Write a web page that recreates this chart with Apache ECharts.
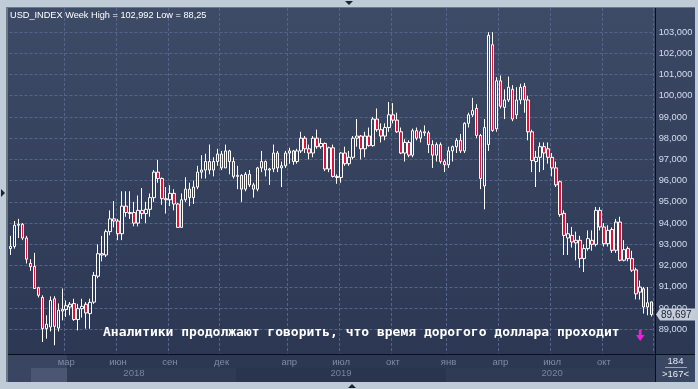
<!DOCTYPE html>
<html><head><meta charset="utf-8">
<script src="https://cdn.jsdelivr.net/npm/echarts@6/dist/echarts.min.js"></script>
<style>html,body{margin:0;padding:0;background:#c0cbd8;}#c{width:698px;height:389px;}</style>
</head><body><div id="c"></div><script>
// ---- data ----
const startWeek = '2017-11-20';
const weekCount = 163;
const opens = [
93.6,92.8,92.9,93.9,93.95,93.3,92.1,91.96,90.96,90.5,
89.03,89.11,90.44,89.06,89.86,89.93,90.05,90.21,89.46,89.97,
90.18,89.74,90.28,91.5,92.56,92.5,93.6,94.2,94.1,93.5,
94.8,94.5,94.5,94.0,94.6,94.45,94.65,95.2,96.4,96.1,
95.15,95.1,95.4,94.9,93.8,95.1,95.6,95.2,95.7,96.4,
96.5,96.9,96.5,96.9,97.25,96.6,97.4,96.9,96.2,96.25,
95.6,96.3,95.8,95.6,96.6,96.9,96.5,96.55,97.3,96.6,
96.7,97.3,97.4,96.9,97.4,98.0,97.5,97.3,98.0,97.6,
97.75,96.55,97.55,96.2,96.15,97.3,96.8,97.1,98.0,98.1,
97.5,98.1,97.65,98.9,98.4,98.1,98.5,99.1,98.85,98.3,
97.3,97.8,97.2,98.35,98.0,98.3,98.25,97.7,97.2,97.7,
96.9,96.75,97.4,97.6,97.9,97.4,98.7,99.1,99.4,98.13,
95.75,97.7,102.4,98.44,100.7,99.45,99.8,100.3,99.1,99.8,
100.44,99.8,98.3,96.9,97.1,97.6,97.5,97.1,96.6,95.95,
94.46,93.3,93.42,93.07,93.19,92.33,92.8,93.19,93.0,94.6,
93.82,93.03,93.7,92.72,94.05,92.25,92.8,92.33,91.8,90.75,
90.91,90.05,90.29];
const closes = [
92.8,92.9,93.9,93.95,93.3,92.3,91.95,90.92,90.6,89.03,
89.24,90.36,89.14,89.9,89.94,90.11,90.18,89.46,89.97,90.08,
89.77,90.27,91.54,92.56,92.5,93.6,94.2,94.1,93.5,94.8,
94.5,94.45,94.0,94.6,94.45,94.65,95.2,96.4,96.1,95.15,
95.1,95.4,94.9,93.8,95.1,95.6,95.2,95.7,96.4,96.5,
96.9,96.5,96.9,97.25,96.6,97.4,96.9,96.2,96.25,95.6,
96.3,95.8,95.6,96.6,96.9,96.5,96.55,97.3,96.6,96.7,
97.3,97.4,96.9,97.4,98.0,97.5,97.3,98.0,97.6,97.75,
96.55,97.55,96.2,96.15,97.3,96.8,97.1,98.0,98.1,97.5,
98.1,97.65,98.9,98.4,98.1,98.5,99.1,98.85,98.3,97.3,
97.8,97.2,98.35,98.0,98.3,98.25,97.7,97.2,97.7,96.9,
96.75,97.4,97.6,97.9,97.4,98.7,99.1,99.3,98.13,96.1,
98.5,102.84,98.36,100.7,99.5,99.8,100.4,98.9,99.8,100.4,
99.8,98.3,96.95,97.1,97.6,97.3,97.1,96.6,95.8,94.4,
93.42,93.5,93.11,93.19,92.33,92.8,93.27,93.0,94.6,93.82,
93.03,93.66,92.72,94.05,92.25,92.75,92.33,91.78,90.67,90.99,
90.05,90.25,89.697];
const lows = [
92.6,92.5,92.8,93.3,93.2,92.1,91.75,90.9,90.5,88.4,
88.56,88.9,88.25,88.9,89.42,89.58,89.66,89.4,88.95,89.55,
89.03,89.03,90.2,91.4,92.2,92.4,93.43,93.8,93.2,93.2,
94.3,94.2,93.85,93.85,94.2,94.0,94.3,95.0,95.9,94.86,
94.45,94.8,94.6,93.8,93.8,95.0,94.8,94.9,95.6,96.1,
96.1,96.3,96.2,96.7,96.5,96.6,96.3,96.1,95.6,95.0,
95.5,95.7,95.2,95.5,96.4,96.2,95.8,96.4,96.4,95.7,
96.6,96.8,96.75,96.8,97.3,97.3,97.0,97.1,97.5,97.5,
96.45,96.4,96.15,95.85,95.9,96.7,96.7,97.0,97.6,97.0,
97.1,97.6,97.6,98.3,97.8,97.9,98.3,98.7,98.25,97.25,
96.9,97.1,97.1,97.9,97.8,98.1,97.3,96.6,96.9,96.8,
96.4,96.6,96.9,97.3,97.3,97.3,98.5,99.0,98.0,95.6,
94.65,97.4,98.3,98.3,99.4,98.9,99.7,98.8,98.9,99.6,
99.2,97.9,96.4,95.7,96.4,96.5,96.8,96.2,95.7,94.3,
92.5,92.5,92.85,92.25,91.9,91.7,92.7,92.7,92.9,93.66,
92.9,92.9,92.6,92.6,92.2,92.2,92.2,91.7,90.41,90.4,
89.74,89.66,89.6];
const highs = [
93.8,93.4,94.1,94.2,94.0,93.4,92.3,92.6,91.0,90.6,
89.66,90.55,90.56,90.22,90.92,90.36,90.28,90.44,90.2,90.44,
90.28,90.44,91.7,93.0,93.4,93.7,94.6,95.04,94.2,95.5,
95.5,95.5,95.0,95.3,95.65,95.0,95.4,96.5,96.98,96.15,
95.7,95.78,95.6,94.95,95.4,96.16,95.9,96.0,96.7,97.2,
97.27,97.7,97.1,97.5,97.4,97.7,97.45,97.1,96.7,96.3,
96.4,96.5,95.9,96.65,97.4,96.95,96.6,97.7,97.4,96.9,
97.4,97.55,97.45,97.5,98.3,98.1,97.7,98.1,98.4,98.0,
97.8,97.6,97.7,96.3,97.35,97.6,97.4,98.1,98.9,98.15,
98.3,98.5,99.0,99.4,98.7,98.7,99.7,99.65,99.2,98.5,
97.95,97.9,98.45,98.5,98.4,98.6,98.35,97.9,97.8,97.8,
97.0,97.6,97.65,98.0,98.2,98.75,99.2,99.9,99.6,98.2,
98.9,102.992,102.99,100.87,100.95,100.3,100.9,100.5,100.4,100.56,
100.6,100.0,98.4,97.4,97.8,97.8,97.8,97.3,96.9,96.0,
94.6,94.0,93.82,93.6,93.4,93.0,93.66,93.66,94.76,94.75,
94.0,93.9,93.8,94.2,94.3,93.2,92.9,92.7,91.9,91.3,
91.0,90.99,90.3];
const monthNames = ['янв','фев','мар','апр','май','июн','июл','авг','сен','окт','ноя','дек'];
const tickMonths = ['2018-03','2018-06','2018-09','2018-12','2019-04','2019-07','2019-10','2020-01','2020-04','2020-07','2020-10'];
const yearLabels = ['2018','2019','2020'];
const titleText = 'USD_INDEX Week High = 102,992 Low = 88,25';
const noteText = 'Аналитики продолжают говорить, что время дорогого доллара проходит';
const barsTotal = '184';
const barsShown = '>167<';

// ---- categories (weekly dates) ----
const DAY = 86400000;
const t0 = Date.parse(startWeek + 'T00:00:00Z');
const dates = [];
for (let i = 0; i < weekCount; i++) dates.push(new Date(t0 + i * 7 * DAY).toISOString().slice(0, 10));
const shifted = dates.map(d => new Date(Date.parse(d + 'T00:00:00Z') + DAY));
const ym = t => t.getUTCFullYear() + '-' + String(t.getUTCMonth() + 1).padStart(2, '0');
const tickIdx = {};
for (let k = 1; k < dates.length; k++) {
  const m = ym(shifted[k]);
  if (m !== ym(shifted[k - 1]) && tickMonths.includes(m)) tickIdx[k] = monthNames[shifted[k].getUTCMonth()];
}
const yearIdx = {};
yearLabels.forEach(y => {
  const idx = [];
  shifted.forEach((t, i) => { if (String(t.getUTCFullYear()) === y) idx.push(i); });
  if (idx.length) yearIdx[Math.round((idx[0] + idx[idx.length - 1]) / 2)] = y;
});
const candles = dates.map((d, i) => [opens[i], closes[i], lows[i], highs[i]]);
const lastClose = closes[closes.length - 1];
const fmt = v => v.toFixed(3).replace('.', ',');

const FONT = 'Liberation Sans';
const GRID = '#55658a';
const bgGrad = new echarts.graphic.LinearGradient(0, 0, 0, 1, [{offset: 0, color: '#3e4b66'}, {offset: 1, color: '#2c3853'}]);
const bgGrad2 = new echarts.graphic.LinearGradient(0, 0, 0, 1, [{offset: 0, color: '#3b4863'}, {offset: 1, color: '#2c3853'}]);

const chart = echarts.init(document.getElementById('c'), null, {renderer: 'canvas'});
const graphics = [
  // backgrounds
  {type: 'rect', z: -10, shape: {x: 8, y: 8, width: 647, height: 346}, style: {fill: bgGrad}},
  {type: 'rect', z: -10, shape: {x: 656, y: 8, width: 39, height: 346}, style: {fill: bgGrad2}},
  {type: 'rect', z: -10, shape: {x: 8, y: 355, width: 647, height: 27}, style: {fill: '#2c3752'}},
  {type: 'rect', z: -9, shape: {x: 8, y: 355, width: 59, height: 13}, style: {fill: '#3a4661'}},
  {type: 'rect', z: -9, shape: {x: 8, y: 368, width: 23, height: 14}, style: {fill: '#3a4661'}},
  {type: 'rect', z: -9, shape: {x: 31, y: 368, width: 36, height: 14}, style: {fill: '#4b5772'}},
  {type: 'rect', z: -9, shape: {x: 67, y: 368, width: 169, height: 14}, style: {fill: '#2f3a55'}},
  {type: 'rect', z: -9, shape: {x: 236, y: 368, width: 210, height: 14}, style: {fill: '#29344e'}},
  {type: 'rect', z: -9, shape: {x: 446, y: 368, width: 209, height: 14}, style: {fill: '#2f3a55'}},
  {type: 'rect', z: -10, shape: {x: 656, y: 355, width: 39, height: 27}, style: {fill: '#3a4762'}},
  // frame overlays
  {type: 'rect', z: 100, shape: {x: 0, y: 0, width: 8, height: 389}, style: {fill: '#c0cbd8'}},
  {type: 'rect', z: 100, shape: {x: 6, y: 7, width: 2, height: 376}, style: {fill: '#6d7889'}},
  {type: 'rect', z: 100, shape: {x: 0, y: 0, width: 698, height: 7}, style: {fill: '#c0cbd8'}},
  {type: 'rect', z: 100, shape: {x: 6, y: 7, width: 690, height: 1}, style: {fill: '#6d7889'}},
  {type: 'rect', z: 100, shape: {x: 695, y: 0, width: 3, height: 389}, style: {fill: '#c0cbd8'}},
  {type: 'rect', z: 100, shape: {x: 0, y: 382, width: 698, height: 7}, style: {fill: '#c0cbd8'}},
  {type: 'polygon', z: 101, shape: {points: [[345, 1], [353, 1], [349, 5]]}, style: {fill: '#1c2332'}},
  {type: 'polygon', z: 101, shape: {points: [[1, 189], [1, 197], [5, 193]]}, style: {fill: '#1c2332'}},
  {type: 'polygon', z: 101, shape: {points: [[348, 388], [356, 388], [352, 384]]}, style: {fill: '#1c2332'}},
  // separator lines
  {type: 'rect', z: 50, shape: {x: 655, y: 8, width: 1, height: 374}, style: {fill: '#0b0f18'}},
  {type: 'rect', z: 50, shape: {x: 8, y: 354, width: 687, height: 1}, style: {fill: '#0b0f18'}},
  // texts
  {type: 'text', z: 60, x: 10, y: 15, style: {text: titleText, fill: '#ffffff', font: '9.2px "Liberation Sans"', verticalAlign: 'middle', align: 'left'}},
  {type: 'text', z: 60, x: 103, y: 333, style: {text: noteText, fill: '#ffffff', font: 'bold 13px "DejaVu Sans Mono"', verticalAlign: 'middle', align: 'left'}},
  {type: 'polygon', z: 60, shape: {points: [[638.8, 330], [641.6, 330], [641.6, 335], [644.5, 335], [640.2, 341], [636, 335], [638.8, 335]]}, style: {fill: '#f01ed6'}},
  {type: 'text', z: 60, x: 675.5, y: 361.5, style: {text: barsTotal, fill: '#e6ecf5', font: '9.5px "Liberation Sans"', verticalAlign: 'middle', align: 'center'}},
  {type: 'rect', z: 60, shape: {x: 665, y: 367, width: 22, height: 1}, style: {fill: '#9aa6b8'}},
  {type: 'text', z: 60, x: 675.5, y: 374.5, style: {text: barsShown, fill: '#e6ecf5', font: '9.5px "Liberation Sans"', verticalAlign: 'middle', align: 'center'}}
];
chart.setOption({
  animation: false,
  backgroundColor: '#c0cbd8',
  grid: [
    {left: 4.5, right: 44.3, top: 8, bottom: 35.5, outerBoundsMode: 'none'},
    {left: 4.5, right: 44.3, top: 32, bottom: 59.7, outerBoundsMode: 'none'}
  ],
  xAxis: [
    {type: 'category', gridIndex: 0, data: dates, boundaryGap: true,
     axisLine: {show: false}, axisTick: {show: false},
     splitLine: {show: true, interval: i => (i in tickIdx), lineStyle: {color: GRID, type: [3, 2], width: 1}},
     axisLabel: {interval: i => (i in tickIdx), formatter: (v, i) => tickIdx[i] || '', color: '#7f8ca5', fontSize: 9.5, fontFamily: FONT, margin: 4}},
    {type: 'category', gridIndex: 0, data: dates, position: 'bottom', offset: 11, boundaryGap: true,
     axisLine: {show: false}, axisTick: {show: false}, splitLine: {show: false},
     axisLabel: {interval: i => (i in yearIdx), formatter: (v, i) => yearIdx[i] || '', color: '#78859e', fontSize: 9.5, fontFamily: FONT, margin: 4}},
    {type: 'category', gridIndex: 1, data: dates, boundaryGap: true, show: false}
  ],
  yAxis: [
    {type: 'value', gridIndex: 0, show: false, min: 0, max: 1, splitLine: {show: false}},
    {type: 'value', gridIndex: 1, position: 'right', min: 89, max: 103, interval: 1,
     axisLine: {show: false}, axisTick: {show: false},
     splitLine: {show: true, lineStyle: {color: GRID, type: [3, 2], width: 1}},
     axisLabel: {color: '#d3dff0', fontSize: 9.3, fontFamily: FONT, margin: 5, formatter: v => fmt(v)}}
  ],
  series: [{
    type: 'candlestick', xAxisIndex: 2, yAxisIndex: 1, data: candles, clip: false, barWidth: 3,
    itemStyle: {color: 'transparent', color0: '#e3103a', borderColor: '#ffffff', borderColor0: '#ffffff', borderWidth: 1}
  }],
  graphic: graphics
});
// price tag at the last close, positioned through the value axis
const py = chart.convertToPixel({yAxisIndex: 1}, lastClose);
graphics.push(
  {type: 'polygon', z: 70, shape: {points: [[656, py], [660, py - 6], [695, py - 6], [695, py + 6], [660, py + 6]]}, style: {fill: '#c6cdd7'}},
  {type: 'text', z: 71, x: 661, y: py + 0.5, style: {text: fmt(lastClose), fill: '#14223a', font: '10px "Liberation Sans"', verticalAlign: 'middle', align: 'left'}}
);
chart.setOption({graphic: graphics});
</script></body></html>
